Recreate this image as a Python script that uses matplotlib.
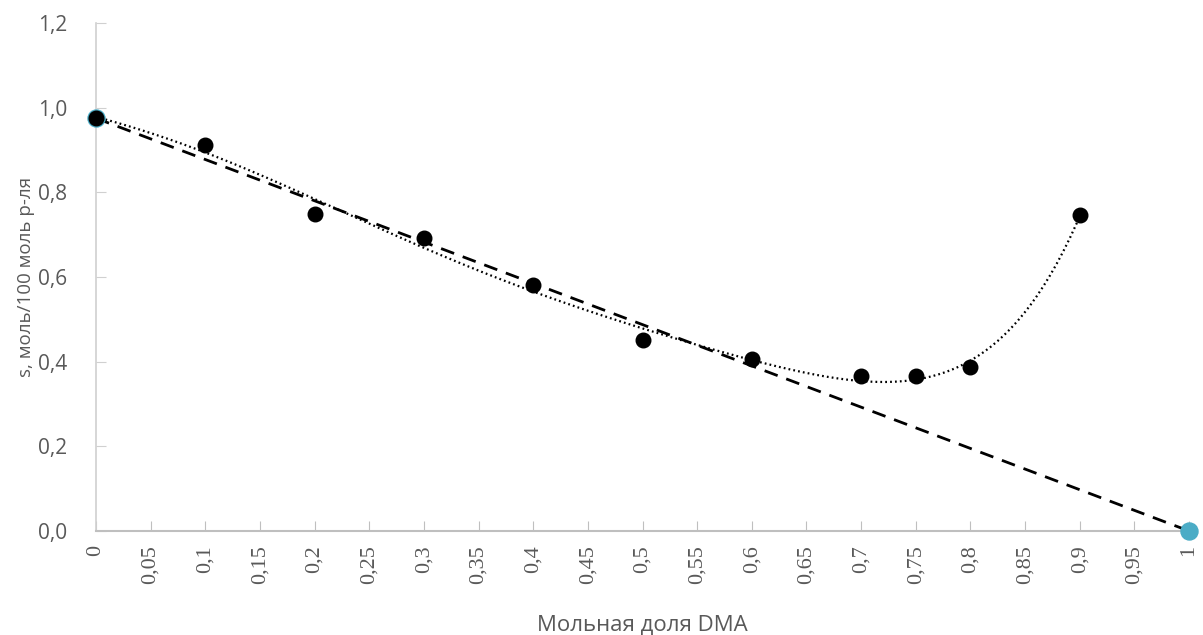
import numpy as np
import matplotlib.pyplot as plt
from matplotlib.ticker import FuncFormatter

# solubility vs DMA mole fraction
x_dma = [0, 0.1, 0.2, 0.3, 0.4, 0.5, 0.6, 0.7, 0.75, 0.8, 0.9]
s_val = [0.975, 0.912, 0.749, 0.692, 0.581, 0.451, 0.406, 0.366, 0.366, 0.387, 0.746]

# pure-component end points (ideal line)
x_ends = [0, 1]
s_ends = [0.975, 0.0]

x_ticks = np.round(np.arange(0, 1.0001, 0.05), 2)
y_ticks = [0, 0.2, 0.4, 0.6, 0.8, 1.0, 1.2]

gray = '#595959'

fig = plt.figure(figsize=(12.03, 6.35), dpi=100)
ax = fig.add_axes([0.0798, 0.1638, 0.9086, 0.80])

# 6th order polynomial trendline through the measured points
coef = np.polyfit(x_dma, s_val, 6)
xx = np.linspace(0, 0.9, 300)
ax.plot(xx, np.polyval(coef, xx), color='black', lw=1.6, ls=(0, (0.8, 1.4)),
        zorder=2)

ax.plot(x_ends, s_ends, color='black', lw=2, ls=(0, (5, 3.3)), zorder=2)
ax.scatter(x_ends, s_ends, s=150, color='#4bacc6', zorder=3, clip_on=False)
ax.scatter(x_dma, s_val, s=110, color='black', zorder=4, clip_on=False)

ax.set_xlim(0, 1)
ax.set_ylim(0, 1.2)
ax.set_xticks(x_ticks)
ax.set_yticks(y_ticks)
ax.xaxis.set_major_formatter(FuncFormatter(lambda v, p: ('%g' % round(v, 2)).replace('.', ',')))
ax.yaxis.set_major_formatter(FuncFormatter(lambda v, p: ('%.1f' % v).replace('.', ',')))

ax.tick_params(axis='x', direction='in', length=7, color='#bfbfbf', labelsize=16,
               labelcolor=gray, pad=10, labelrotation=90)
ax.tick_params(axis='y', direction='in', length=7, color='#d0d0d0', labelsize=15,
               labelcolor=gray, pad=21)

for lab in ax.get_xticklabels():
    lab.set_fontfamily('Liberation Serif')
for lab in ax.get_yticklabels():
    lab.set_fontfamily('Open Sans')

for side in ['top', 'right']:
    ax.spines[side].set_visible(False)
ax.spines['left'].set_color('#d0d0d0')
ax.spines['bottom'].set_color('#bfbfbf')
ax.spines['left'].set_linewidth(1.2)
ax.spines['bottom'].set_linewidth(1.5)

ax.set_xlabel('Мольная доля DMA', fontsize=16, color=gray, family='Open Sans',
              labelpad=22)
ax.set_ylabel('s, моль/100 моль р-ля', fontsize=13.5, color=gray, family='Open Sans',
              labelpad=2)

fig.savefig('out.png', dpi=100)
